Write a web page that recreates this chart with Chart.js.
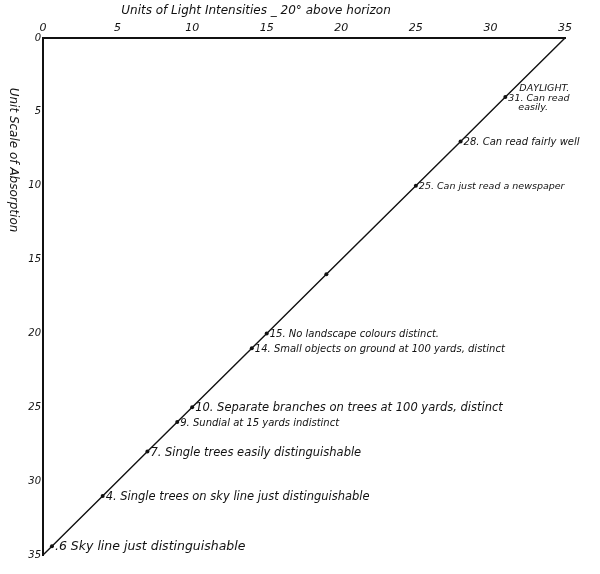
<!DOCTYPE html>
<html>
<head>
<meta charset="utf-8">
<script src="https://cdn.jsdelivr.net/npm/chart.js@4"></script>
<style>
  html, body { margin: 0; padding: 0; background: #fff; }
  #wrap { width: 600px; height: 574px; position: relative; }
</style>
</head>
<body>
<div id="wrap"><canvas id="chart"></canvas></div>
<script>
// Valeurs
const intensity = [0, 0.6, 4, 7, 9, 10, 14, 15, 19, 25, 28, 31, 35];
const absorption = [35, 34.4, 31, 28, 26, 25, 21, 20, 16, 10, 7, 4, 0];
const notes = [
    '',
    '.6 Sky line just distinguishable',
    '4. Single trees on sky line just distinguishable',
    '7. Single trees easily distinguishable',
    '9. Sundial at 15 yards indistinct',
    '10. Separate branches on trees at 100 yards, distinct',
    '14. Small objects on ground at 100 yards, distinct',
    '15. No landscape colours distinct.',
    '',
    '25. Can just read a newspaper',
    '28. Can read fairly well',
    '31. Can read',
    ''
];
const pointSizes = [0, 2, 2, 2, 2, 2, 2, 2, 2, 2, 2, 2, 0];
const xTitle = 'Units of Light Intensities _ 20° above horizon';
const yTitle = 'Unit Scale of Absorption';

const FONT = '"DejaVu Sans", sans-serif';
// taille d'écriture de chaque note (l'écriture manuscrite varie)
const noteFont = [0, 12.5, 11.5, 11.5, 10, 11.5, 10, 10, 0, 9.5, 10, 9.5, 0];

/**
 * Dessine les titres des axes et les annotations des points
 */
const notesPlugin = {
    id: 'notes',
    afterDatasetsDraw(chart) {
        const c = chart.ctx;
        const meta = chart.getDatasetMeta(0);
        c.save();
        c.fillStyle = '#111';
        c.textBaseline = 'middle';
        c.textAlign = 'left';
        meta.data.forEach((pt, i) => {
            if (!notes[i]) return;
            c.font = 'italic ' + noteFont[i] + 'px ' + FONT;
            c.fillText(notes[i], pt.x + 3, pt.y + 1);
        });
        // Annotation "DAYLIGHT" autour du point 31
        const day = meta.data[11];
        c.font = 'italic 9.5px ' + FONT;
        c.fillText('DAYLIGHT.', day.x + 14, day.y - 9);
        c.fillText('easily.', day.x + 13, day.y + 10);

        // Titre du haut
        c.font = 'italic 12px ' + FONT;
        c.textAlign = 'center';
        c.fillText(xTitle, 256, 11);

        // Titre de gauche, lu de haut en bas
        c.translate(13, 160);
        c.rotate(Math.PI / 2);
        c.fillText(yTitle, 0, 0);
        c.restore();
    }
};

new Chart(document.getElementById('chart'), {
    type: 'line',
    data: {
        datasets: [{
            data: intensity.map((x, i) => ({ x: x, y: absorption[i] })),
            borderColor: '#111',
            borderWidth: 1.4,
            pointRadius: pointSizes,
            pointBackgroundColor: '#111',
            pointBorderWidth: 0,
            tension: 0,
            fill: false
        }]
    },
    options: {
        responsive: true,
        maintainAspectRatio: false,
        animation: false,
        layout: { padding: { left: 0, top: 0, right: 35, bottom: 19 } },
        plugins: {
            legend: { display: false },
            tooltip: { enabled: false }
        },
        scales: {
            x: {
                type: 'linear',
                position: 'top',
                min: 0,
                max: 35,
                grid: { display: false, drawTicks: false, tickLength: 0 },
                border: { display: true, color: '#111', width: 2 },
                ticks: {
                    stepSize: 5,
                    color: '#111',
                    padding: 3,
                    font: { size: 11, style: 'italic', family: FONT }
                },
                afterFit: (s) => { s.height = 38; }
            },
            y: {
                type: 'linear',
                position: 'left',
                reverse: true,
                min: 0,
                max: 35,
                grid: { display: false, drawTicks: false, tickLength: 0 },
                border: { display: true, color: '#111', width: 2 },
                ticks: {
                    stepSize: 5,
                    color: '#111',
                    padding: 2,
                    font: { size: 10, style: 'italic', family: FONT }
                },
                afterFit: (s) => { s.width = 43; }
            }
        }
    },
    plugins: [notesPlugin]
});
</script>
</body>
</html>
